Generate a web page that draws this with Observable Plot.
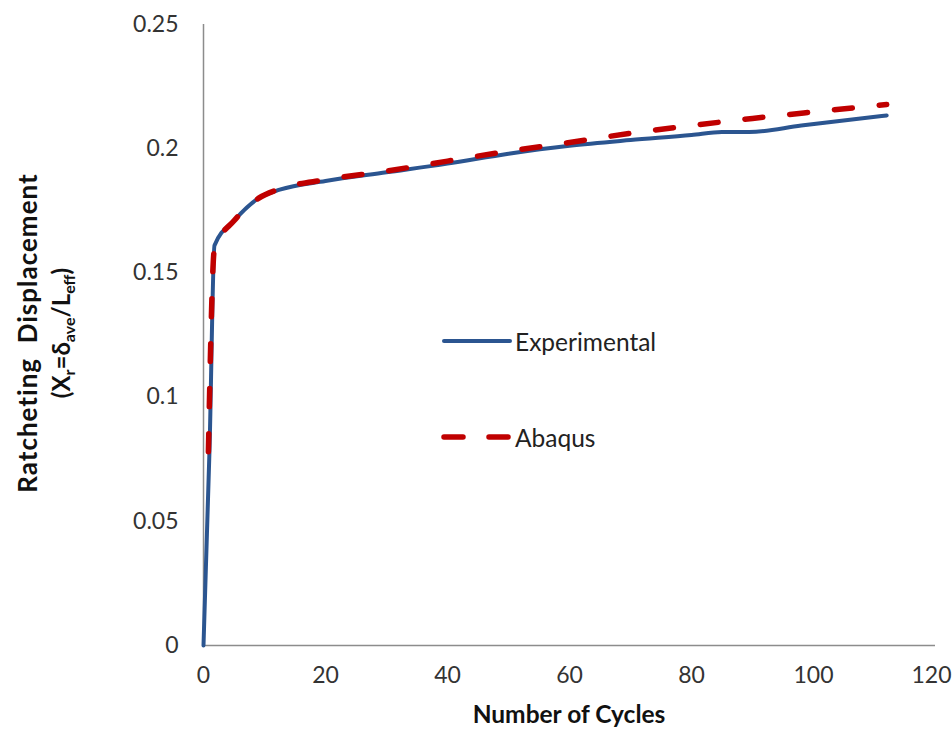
<!DOCTYPE html>
<html><head><meta charset="utf-8">
<script src="https://cdn.jsdelivr.net/npm/d3@7"></script>
<script src="https://cdn.jsdelivr.net/npm/@observablehq/plot@0.6"></script>
<style>
body{margin:0;background:#fff;}
#chart{position:relative;width:952px;height:731px;font-family:Lato,"Open Sans",sans-serif;}
.legend{position:absolute;left:440px;display:flex;align-items:center;font-size:24.5px;color:#222;}
.legend svg{margin-right:1px;}
</style></head><body><div id="chart"></div>
<script>
const expCycles = [0, 1, 1.8, 5, 9, 12.5, 20, 30, 40, 50, 60, 70, 80, 85, 89.5, 98, 112];
const expValues = [0, 0.08, 0.161, 0.171, 0.180, 0.1835, 0.187, 0.1905, 0.194, 0.198, 0.2012, 0.2035, 0.2055, 0.2067, 0.2067, 0.2093, 0.2134];
const abqCycles = [0.8, 1.8, 5, 9, 12.5, 20, 30, 40, 50, 60, 70, 80, 90, 100, 112];
const abqValues = [0.078, 0.160, 0.171, 0.180, 0.1838, 0.1875, 0.191, 0.195, 0.199, 0.2025, 0.2062, 0.2093, 0.2122, 0.2148, 0.2178];
const xTicks = [0, 20, 40, 60, 80, 100, 120];
const yTicks = [0, 0.05, 0.1, 0.15, 0.2, 0.25];
const seriesNames = ["Experimental", "Abaqus"];
const seriesColors = ["#2b5590", "#c00000"];

const expData = expCycles.map((c, i) => ({c, v: expValues[i]}));
const abqData = abqCycles.map((c, i) => ({c, v: abqValues[i]}));
const xMax = xTicks[xTicks.length - 1];

const chart = Plot.plot({
  width: 952, height: 731,
  marginLeft: 203, marginRight: 17, marginTop: 24, marginBottom: 86,
  style: {fontFamily: "Lato, 'Open Sans', sans-serif", fontSize: "23px", color: "#333", background: "#fff"},
  x: {domain: [0, xMax]},
  y: {domain: [0, 0.25]},
  marks: [
    Plot.axisX({ticks: xTicks.filter(t => t < xMax), tickSize: 0, tickPadding: 21, label: null, fontSize: 23}),
    Plot.axisX({ticks: [xMax], tickSize: 0, tickPadding: 21, label: null, fontSize: 23, dx: -4}),
    Plot.axisY({ticks: yTicks, tickSize: 0, tickPadding: 25, label: null, fontSize: 23, tickFormat: d => String(d)}),
    Plot.ruleX([0], {stroke: "#8c8c8c", strokeWidth: 1.5}),
    Plot.ruleY([0], {stroke: "#8c8c8c", strokeWidth: 1.5}),
    Plot.line(expData, {x: "c", y: "v", stroke: seriesColors[0], strokeWidth: 4, curve: "monotone-x"}),
    Plot.line(abqData, {x: "c", y: "v", stroke: seriesColors[1], strokeWidth: 5.5, strokeDasharray: "18,27", strokeLinecap: "round", curve: "monotone-x"})
  ]
});

const svg = d3.select(chart);
svg.append("text")
  .attr("x", 569).attr("y", 723)
  .attr("text-anchor", "middle")
  .attr("font-weight", "bold").attr("font-size", 24.5).attr("fill", "#111")
  .text("Number of Cycles");

const yl = svg.append("g").attr("transform", "translate(0,333) rotate(-90)")
  .attr("font-weight", "bold").attr("fill", "#111").attr("text-anchor", "middle");
yl.append("text").attr("x", 0).attr("y", 37).attr("font-size", 26).attr("letter-spacing", 1)
  .attr("xml:space", "preserve").style("white-space", "pre").text("Ratcheting  Displacement");
const t2 = yl.append("text").attr("x", 0).attr("y", 70).attr("font-size", 24);
t2.append("tspan").text("(X");
t2.append("tspan").attr("font-size", 16).attr("dy", 5).text("r");
t2.append("tspan").attr("dy", -5).text("=δ");
t2.append("tspan").attr("font-size", 16).attr("dy", 5).text("ave");
t2.append("tspan").attr("dy", -5).text("/L");
t2.append("tspan").attr("font-size", 16).attr("dy", 5).text("eff");
t2.append("tspan").attr("dy", -5).text(")");

const root = document.getElementById("chart");
root.appendChild(chart);

const legendTops = [325, 421];
seriesNames.forEach((name, i) => {
  const item = document.createElement("div");
  item.className = "legend";
  item.style.top = legendTops[i] + "px";
  const dash = i === 1 ? "stroke-dasharray='19,26'" : "";
  item.innerHTML = `<svg width="74" height="32"><line x1="4" x2="70" y1="16" y2="16" stroke="${seriesColors[i]}" stroke-width="${i === 1 ? 5.5 : 4}" stroke-linecap="round" ${dash}/></svg><span>${name}</span>`;
  root.appendChild(item);
});
</script></body></html>
